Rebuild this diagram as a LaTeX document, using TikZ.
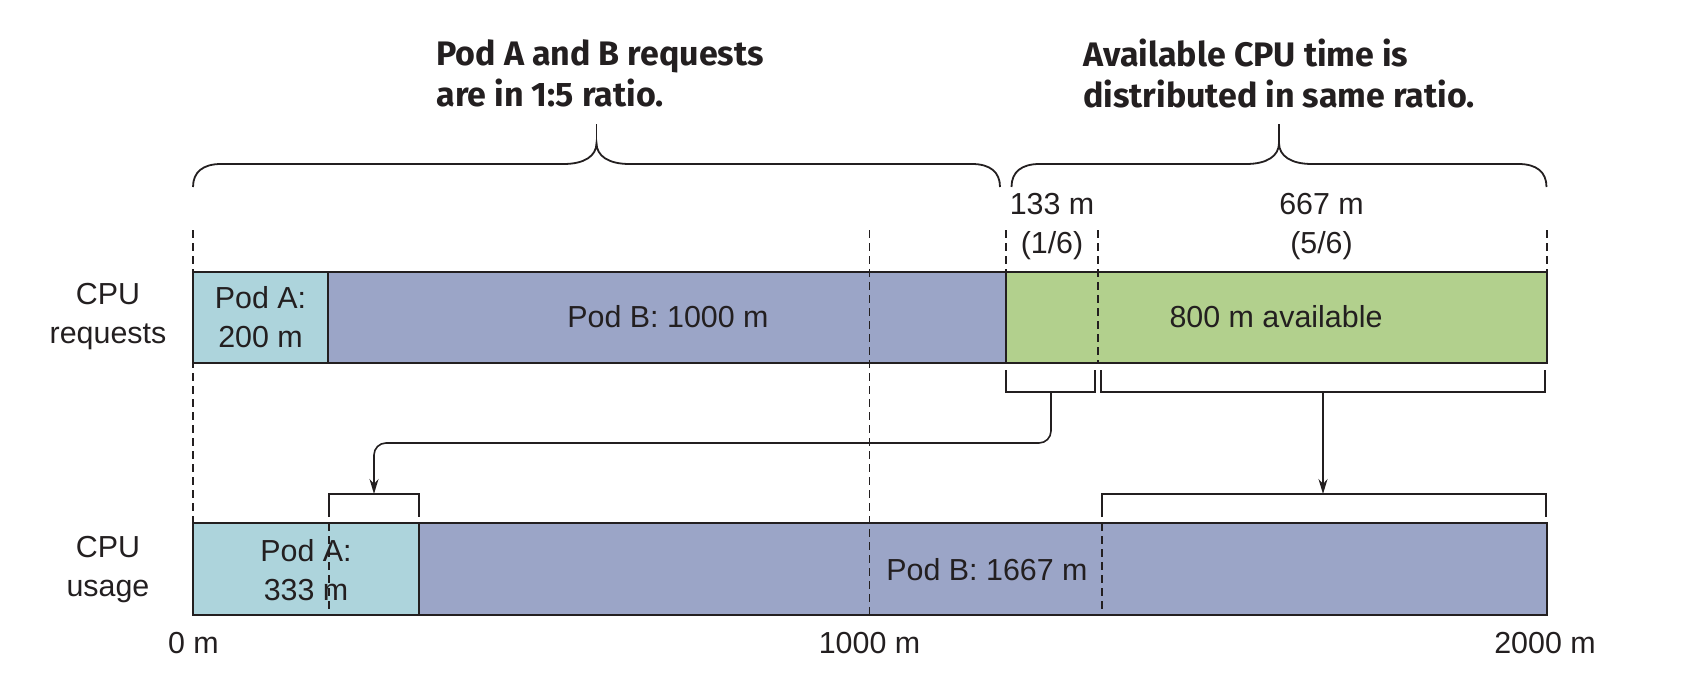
\documentclass[tikz,border=0pt]{standalone}
\usepackage{fontspec}
\setmainfont{Liberation Sans}
\newfontfamily\titlefont{Fira Sans}
\usetikzlibrary{arrows.meta}
\definecolor{podA}{HTML}{ADD4DC}
\definecolor{podB}{HTML}{9BA5C7}
\definecolor{avail}{HTML}{B2D08D}
\definecolor{ink}{HTML}{231F20}
\begin{document}
\begin{tikzpicture}[x=0.5pt,y=-0.5pt,
  barline/.style={draw=ink, line width=1pt},
  guide/.style={draw=ink, line width=0.7pt, dash pattern=on 4pt off 2.5pt},
  bracket/.style={draw=ink, line width=0.8pt},
  brace/.style={draw=ink, line width=0.9pt},
  flow/.style={draw=ink, line width=0.8pt, -{Stealth[length=7.5pt,width=4.5pt]}, rounded corners=6pt},
  lbl/.style={font=\fontsize{15.2}{19.5}\selectfont, align=center, inner sep=0pt, text=ink},
  ttl/.style={font=\titlefont\bfseries\fontsize{17}{20.5}\selectfont, align=left, inner sep=0pt, text=ink, anchor=north west}]
\useasboundingbox (0,0) rectangle (1702,690);

% bar fills
\fill[podA] (193,272) rectangle (328,363);
\fill[podB] (328,272) rectangle (1006,363);
\fill[avail] (1006,272) rectangle (1547,363);
\fill[podA] (193,523) rectangle (419,615);
\fill[podB] (419,523) rectangle (1547,615);

% dashed guides
\draw[guide] (193,230) -- (193,523);
\draw[guide] (869.5,230) -- (869.5,615);
\draw[guide] (1006,230) -- (1006,272);
\draw[guide] (1098,230) -- (1098,363);
\draw[guide] (1547,230) -- (1547,272);
\draw[guide] (329,523) -- (329,615);
\draw[guide] (1102,523) -- (1102,615);

% bar borders
\draw[barline] (193,272) rectangle (1547,363);
\draw[barline] (328,272) -- (328,363);
\draw[barline] (1006,272) -- (1006,363);
\draw[barline] (193,523) rectangle (1547,615);
\draw[barline] (419,523) -- (419,615);

% braces
\draw[brace] (193,187) .. controls (193,172) and (203,164) .. (221,164) -- (563.5,164)
  .. controls (584.5,164) and (596.5,156) .. (596.5,143)
  .. controls (596.5,156) and (608.5,164) .. (629.5,164) -- (972,164)
  .. controls (990,164) and (1000,172) .. (1000,187);
\draw[brace] (596.5,143) -- (596.5,124);
\draw[brace] (1011.5,187) .. controls (1011.5,172) and (1021.5,164) .. (1039.5,164) -- (1246,164)
  .. controls (1267,164) and (1279,156) .. (1279,143)
  .. controls (1279,156) and (1291,164) .. (1312,164) -- (1518.5,164)
  .. controls (1536.5,164) and (1546.5,172) .. (1546.5,187);
\draw[brace] (1279,143) -- (1279,124);

% brackets
\draw[bracket] (1006,370) -- (1006,392) -- (1095,392) -- (1095,370);
\draw[bracket] (1101,370) -- (1101,392) -- (1545,392) -- (1545,370);
\draw[bracket] (329,517) -- (329,494) -- (419,494) -- (419,517);
\draw[bracket] (1102,517) -- (1102,494) -- (1546,494) -- (1546,517);

\coordinate (b1) at (1051,392);
\coordinate (u1) at (374,494);
\coordinate (b2) at (1323,392);
\coordinate (u2) at (1323,494);
\draw[flow] (b1) -- (1051,443) -| (u1);
\draw[flow] (b2) -- (u2);

% titles
\node[ttl] (t1) at (436,39) {Pod A and B requests\\are in 1:5 ratio.};
\node[ttl] (t2) at (1083,39) {Available CPU time is\\distributed in same ratio.};

% labels
\node[lbl] (lreq) at (108,317) {CPU\\requests};
\node[lbl] (luse) at (108,570) {CPU\\usage};
\node[lbl] (ra) at (260.5,317) {Pod A:\\200 m};
\node[lbl] (rb) at (668,317) {Pod B: 1000 m};
\node[lbl] (rav) at (1276,317) {800 m available};
\node[lbl] (s1) at (1052,227) {133 m\\(1/6)};
\node[lbl] (s5) at (1321.5,227) {667 m\\(5/6)};
\node[lbl] (ua) at (306,570) {Pod A:\\333 m};
\node[lbl] (ub) at (987,570) {Pod B: 1667 m};
\node[lbl] (x0) at (193.5,643) {0 m};
\node[lbl] (x1) at (869.5,643) {1000 m};
\node[lbl] (x2) at (1545,643) {2000 m};
\end{tikzpicture}
\end{document}
